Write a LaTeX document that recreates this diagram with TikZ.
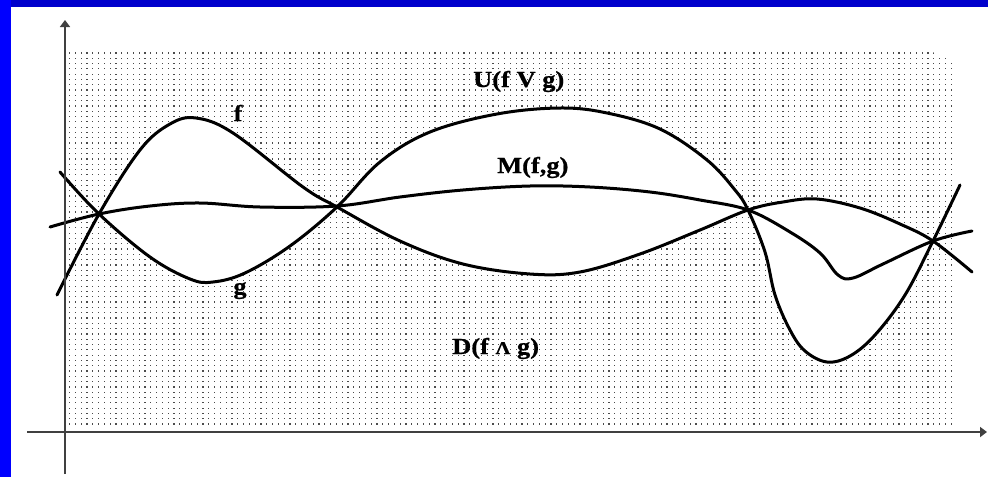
\documentclass[tikz,border=0pt]{standalone}
\usepackage{fontspec}
\setmainfont{Liberation Serif}
\newfontfamily\lblfont[FakeBold=0.6]{Liberation Serif}
\usetikzlibrary{patterns,arrows.meta}
\pgfdeclarepatternformonly{stipple}{\pgfqpoint{-1pt}{-1pt}}{\pgfqpoint{1pt}{1pt}}{\pgfqpoint{5.8pt}{5.3pt}}{%
  \pgfpathrectangle{\pgfqpoint{-0.6pt}{-0.6pt}}{\pgfqpoint{1.2pt}{1.2pt}}\pgfusepath{fill}}
\definecolor{blueA}{RGB}{0,0,204}
\definecolor{blueB}{RGB}{0,0,255}
\def\fcurve{plot[smooth,tension=0.6] coordinates {(57,295) (99,214) (140,150) (170,124) (196,118) (233,133) (303,187) (337,207) (400,241) (463,264) (530,274) (580,272) (640,254) (700,230) (748,210) (783,202) (817,199) (860,208) (900,224) (933,241) (972,272)}}
\def\gcurve{plot[smooth,tension=0.6] coordinates {(60,172) (99,214) (150,257) (190,279) (213,282) (245,273) (290,246) (337,207) (380,162) (430,132) (497,114) (560,108) (607,113) (660,129) (707,160) (735,190) (748,210) (765,252) (775,295) (790,330) (805,351) (827,362) (850,356) (875,335) (905,295) (933,241) (960,185)}}
\def\mcurve{plot[smooth,tension=0.6] coordinates {(50,227) (99,214) (150,206) (200,203) (260,207) (337,206) (400,197) (463,190) (530,186) (590,187) (650,192) (700,200) (748,210) (790,232) (820,253) (838,275) (853,278) (883,264) (933,241) (972,231)}}
\tikzset{
  curve/.style={line width=3pt, line join=round, line cap=round},
  axis/.style={line width=1.8pt, black!75, -{Triangle[length=7pt,width=10pt]}},
  lbl/.style={inner sep=0pt, font=\fontsize{23}{23}\lblfont\bfseries}
}
\begin{document}
\begin{tikzpicture}[x=1pt,y=-1pt]
\useasboundingbox (0,0) rectangle (988,477);
\fill[white] (0,0) rectangle (988,477);
\fill[blueA] (0,0) rectangle (988,7);
\fill[blueB] (0,0) rectangle (11,477);
% stippled region
\fill[pattern=stipple, pattern color=black!70] (65,48) -- (877,48) .. controls (935,48) and (955,55) .. (955,72) -- (955,427) -- (65,427) -- cycle;
% white lenses between f and g
\begin{scope}
\clip (99,0) rectangle (933,477);
\fill[white, even odd rule] \fcurve -- (972,440) -- (57,440) -- cycle \gcurve -- (960,440) -- (60,440) -- cycle;
\end{scope}
% curves
\draw[curve] \fcurve;
\draw[curve] \gcurve;
\draw[curve] \mcurve;
% axes
\coordinate (xs) at (27,432);
\coordinate (xe) at (987,432);
\coordinate (ys) at (65,474);
\coordinate (ye) at (65,20);
\draw[axis] (xs) -- (xe);
\draw[axis] (ys) -- (ye);
% labels
\node[lbl, anchor=base] (lf) at (238,121) {\scalebox{1.15}[1]{f}};
\node[lbl, anchor=base] (lg) at (240,294) {\scalebox{1.15}[1]{g}};
\node[lbl, anchor=base west] (lu) at (473,87) {\scalebox{1.15}[1]{U(f V g)}};
\node[lbl, anchor=base west] (lm) at (497,173) {\scalebox{1.15}[1]{M(f,g)}};
\node[lbl, anchor=base west] (ld) at (452,354) {\scalebox{1.15}[1]{D(f {\fontsize{18}{18}\selectfont Λ} g)}};
\end{tikzpicture}
\end{document}
